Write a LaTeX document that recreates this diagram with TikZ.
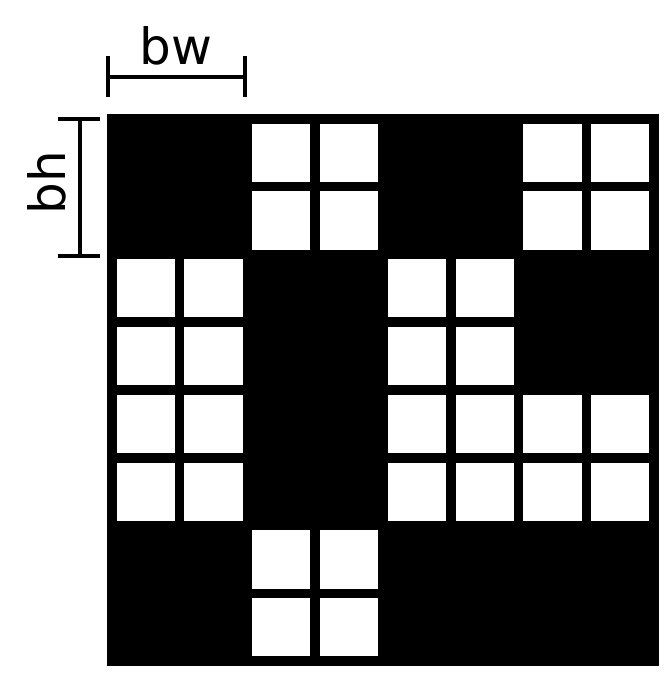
\documentclass[tikz,border=0pt]{standalone}
\usepackage{fontspec}
\setmainfont{DejaVu Sans}
\tikzset{
  dimline/.style={line width=4pt, black},
  dimlabel/.style={inner sep=0pt, font=\fontsize{50}{60}\selectfont},
  cellbox/.style={fill=white}
}
\begin{document}
\begin{tikzpicture}[x=1pt,y=-1pt]
\useasboundingbox (0,0) rectangle (670,675);
% board
\fill[black] (107,114) rectangle (659,666);
\foreach \c/\r in {1/0,3/0,0/1,2/1,0/2,2/2,3/2,1/3}
  \foreach \a in {0,1}
    \foreach \b in {0,1}
      \fill[cellbox] ({116.5+(2*\c+\a)*67.8125},{123.5+(2*\r+\b)*67.8125}) rectangle +(58.3,58.3);
% bw marker
\coordinate (bwl) at (108,77);
\coordinate (bwr) at (245,77);
\draw[dimline] (bwl) -- (bwr);
\draw[dimline] ([yshift=-20pt]bwl) -- ([yshift=21pt]bwl);
\draw[dimline] ([yshift=-20pt]bwr) -- ([yshift=21pt]bwr);
\node[dimlabel] (bw) at (176,46) {bw};
% bh marker
\coordinate (bht) at (80,119);
\coordinate (bhb) at (80,256);
\draw[dimline] (bht) -- (bhb);
\draw[dimline] ([xshift=-22pt]bht) -- ([xshift=20pt]bht);
\draw[dimline] ([xshift=-22pt]bhb) -- ([xshift=20pt]bhb);
\node[dimlabel, rotate=90] (bh) at (47,183) {bh};
\end{tikzpicture}
\end{document}
